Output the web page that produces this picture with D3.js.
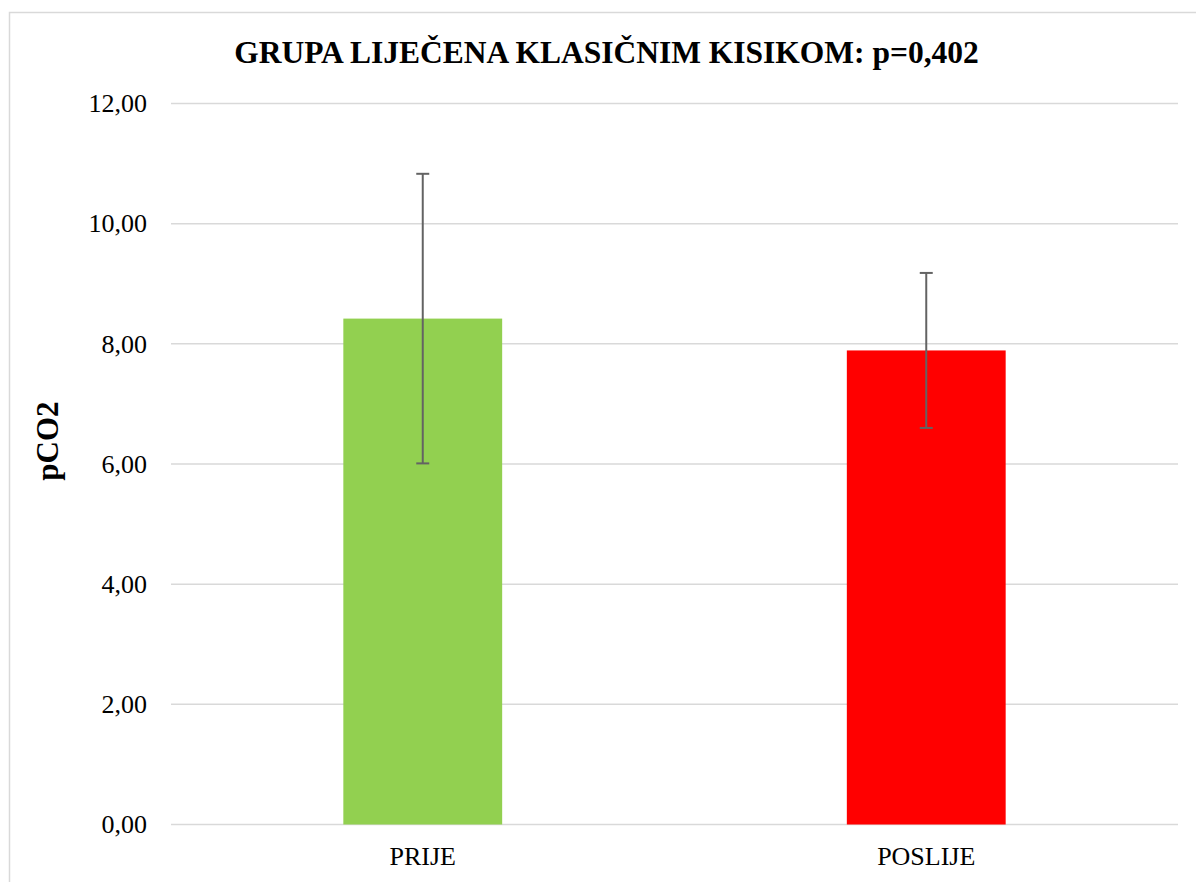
<!DOCTYPE html>
<html>
<head>
<meta charset="utf-8">
<script src="https://cdn.jsdelivr.net/npm/d3@7"></script>
<style>
  html, body { margin: 0; padding: 0; background: #ffffff; }
  svg { display: block; }
  text { font-family: "Liberation Serif", "Times New Roman", serif; fill: #000; }
</style>
</head>
<body>
<svg id="chart" width="1196" height="882"></svg>
<script>
// pCO2 before and after treatment (mean and standard deviation)
const categories = ["PRIJE", "POSLIJE"];
const means = [8.42, 7.89];
const errors = [2.41, 1.29];
const barColors = ["#92d050", "#ff0000"];
const yTicks = [0, 2, 4, 6, 8, 10, 12];
const titleText = "GRUPA LIJEČENA KLASIČNIM KISIKOM: p=0,402";
const yAxisTitle = "pCO2";

const svg = d3.select("#chart");

// Outer chart frame (only top and left edges fall inside the view)
svg.append("rect")
  .attr("x", 9.5).attr("y", 12.5)
  .attr("width", 1300).attr("height", 1000)
  .attr("fill", "none")
  .attr("stroke", "#d9d9d9")
  .attr("stroke-width", 1.5);

const plot = { left: 171, right: 1178, top: 103.5, bottom: 824.5 };

const x = d3.scaleBand()
  .domain(categories)
  .range([plot.left, plot.right])
  .padding(0);

const y = d3.scaleLinear()
  .domain([0, 12])
  .range([plot.bottom, plot.top]);

const gapWidth = 2.17;
const barWidth = x.bandwidth() / (1 + gapWidth);

// Horizontal gridlines
svg.append("g")
  .selectAll("line")
  .data(yTicks)
  .join("line")
  .attr("x1", plot.left).attr("x2", plot.right)
  .attr("y1", d => y(d)).attr("y2", d => y(d))
  .attr("stroke", "#d9d9d9")
  .attr("stroke-width", 1.5);

// Y tick labels
const fmt = d => d3.format(".2f")(d).replace(".", ",");
svg.append("g")
  .selectAll("text")
  .data(yTicks)
  .join("text")
  .attr("x", 147)
  .attr("y", d => y(d) + 8.7)
  .attr("text-anchor", "end")
  .attr("font-size", 26)
  .text(fmt);

// Bars
svg.append("g")
  .selectAll("rect")
  .data(categories)
  .join("rect")
  .attr("x", d => x(d) + (x.bandwidth() - barWidth) / 2)
  .attr("width", barWidth)
  .attr("y", (d, i) => y(means[i]))
  .attr("height", (d, i) => y(0) - y(means[i]))
  .attr("fill", (d, i) => barColors[i]);

// Error bars
const eb = svg.append("g")
  .attr("stroke", "#636363")
  .attr("stroke-width", 2)
  .selectAll("g")
  .data(categories)
  .join("g");
const cx = d => x(d) + x.bandwidth() / 2;
const capHalf = 6.5;
eb.append("line")
  .attr("x1", cx).attr("x2", cx)
  .attr("y1", (d, i) => y(means[i] + errors[i]))
  .attr("y2", (d, i) => y(means[i] - errors[i]));
eb.append("line")
  .attr("x1", d => cx(d) - capHalf).attr("x2", d => cx(d) + capHalf)
  .attr("y1", (d, i) => y(means[i] + errors[i]))
  .attr("y2", (d, i) => y(means[i] + errors[i]));
eb.append("line")
  .attr("x1", d => cx(d) - capHalf).attr("x2", d => cx(d) + capHalf)
  .attr("y1", (d, i) => y(means[i] - errors[i]))
  .attr("y2", (d, i) => y(means[i] - errors[i]));

// Category labels
svg.append("g")
  .selectAll("text")
  .data(categories)
  .join("text")
  .attr("x", cx)
  .attr("y", 865)
  .attr("text-anchor", "middle")
  .attr("font-size", 26)
  .text(d => d);

// Title
svg.append("text")
  .attr("x", 606.5)
  .attr("y", 63)
  .attr("text-anchor", "middle")
  .attr("font-size", 31.5)
  .attr("font-weight", "bold")
  .text(titleText);

// Y axis title
svg.append("text")
  .attr("transform", "translate(58,441) rotate(-90)")
  .attr("text-anchor", "middle")
  .attr("font-size", 31)
  .attr("font-weight", "bold")
  .text(yAxisTitle);
</script>
</body>
</html>
